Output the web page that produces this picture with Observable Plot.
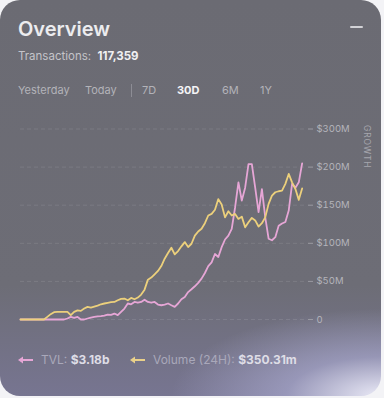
<!DOCTYPE html>
<html>
<head>
<meta charset="utf-8">
<script src="https://cdn.jsdelivr.net/npm/d3@7"></script>
<script src="https://cdn.jsdelivr.net/npm/@observablehq/plot@0.6"></script>
<style>
  html, body { margin: 0; padding: 0; background: #f3f3f6; width: 384px; height: 398px; overflow: hidden; font-family: Inter, "Noto Sans", sans-serif; }
  #card { position: absolute; left: 0; top: 0; width: 381px; height: 396px; border-radius: 20px; overflow: hidden;
    background:
      radial-gradient(ellipse 55% 22% at 100% 100%, rgba(240,240,252,0.95) 0%, rgba(180,180,220,0.55) 45%, rgba(130,128,170,0) 100%),
      linear-gradient(to bottom, #6b6b73 0%, #6d6d76 72%, #777591 100%);
  }
  .t { position: absolute; white-space: nowrap; line-height: 1; }
  #title { left: 18px; top: 19px; font-size: 20px; font-weight: 600; color: #ececef; }
  #minus { position: absolute; left: 350px; top: 26px; width: 13px; height: 2px; background: #d2d2d6; border-radius: 1px; }
  #tx { left: 18px; top: 51px; font-size: 11.5px; color: #c4c4c9; }
  #tx b { color: #f0f0f2; font-weight: 700; }
  .tab { top: 85px; font-size: 11px; color: #b3b3b9; }
  .tab.on { color: #f4f4f6; font-weight: 700; }
  #sep { position: absolute; left: 131px; top: 84px; width: 1px; height: 13px; background: #8d8d95; }
  #chart { position: absolute; left: 0; top: 110px; }
  #growth { left: 360px; top: 125px; font-size: 8.5px; letter-spacing: 0.8px; color: #a6a6ad; transform-origin: 0 0; transform: translate(11px, 0) rotate(90deg); }
  .leg { top: 354px; font-size: 12px; color: #a9a8ba; }
  .leg b { color: #dedde6; font-weight: 700; }
  .ico { position: absolute; top: 355px; }
</style>
</head>
<body>
<div id="card">
  <div class="t" id="title">Overview</div>
  <div id="minus"></div>
  <div class="t" id="tx">Transactions:&nbsp; <b>117,359</b></div>
  <div class="t tab" style="left:18px">Yesterday</div>
  <div class="t tab" style="left:85px">Today</div>
  <div id="sep"></div>
  <div class="t tab" style="left:142px">7D</div>
  <div class="t tab on" style="left:177px">30D</div>
  <div class="t tab" style="left:222px">6M</div>
  <div class="t tab" style="left:260px">1Y</div>
  <div id="chart"></div>
  <div class="t" id="growth">GROWTH</div>
  <svg class="ico" style="left:17px" width="17" height="10"><line x1="3" y1="5" x2="16" y2="5" stroke="#e6a6d6" stroke-width="2"/><path d="M1,5 L6,1.5 L6,8.5 Z" fill="#e6a6d6"/></svg>
  <div class="t leg" style="left:41px">TVL: <b>$3.18b</b></div>
  <svg class="ico" style="left:129px" width="17" height="10"><line x1="3" y1="5" x2="16" y2="5" stroke="#e9d08a" stroke-width="2"/><path d="M1,5 L6,1.5 L6,8.5 Z" fill="#e9d08a"/></svg>
  <div class="t leg" style="left:153px">Volume (24H): <b>$350.31m</b></div>
</div>
<script>
// TVL series (millions), evenly spaced samples over the 30D window
const tvl = [0,0,0,0,0,0,0,0,0,0,0,0,0,0,
  1.3,3.5,2.2,3.5,0,0,1.3,2.6,3.5,4,4.4,5.2,6.5,6,7.8,5.7,10,14.4,21,20,23,22,23,26,23,22,
  23,19.6,18.7,19.6,21,18.7,16.6,21,26.6,29.6,36,39.7,43.6,48,53.6,61,70,75,86,82,
  95,105,110,119,147,180,156,173,204,204,173,141,171,134,106,104,108,123,126,128,
  143,178,173,180,205];
// Volume (24H) series (millions)
const volume = [0,0,0,0,0,0,0,0,
  3.5,7,9.6,10,10,10,10,5.7,10,12,11.3,14.4,16.6,15.7,17,18.3,20,21,21.8,22.7,23,25.3,
  27,27.5,25.3,28.3,26.6,28.8,32.7,39.2,52.3,55,59.3,63.7,70.2,79.8,87.2,94.2,85.5,89.8,96,101.6,
  95,99.4,110,115.5,119,126.4,136.5,138.6,144,158,151,134,142,136.5,138.6,132,135,121,127.7,133.4,
  130,122,126.4,134,151.7,162.6,167,168.3,169,178,191,180,171.3,157,172];
const tickValues = [0, 50, 100, 150, 200, 250];
const tickLabels = ["0", "$50M", "$100M", "$150M", "$200M", "$300M"];

const rows = [];
tvl.forEach((v, i) => rows.push({i, v, s: "TVL"}));
volume.forEach((v, i) => rows.push({i, v, s: "Volume"}));

const chart = Plot.plot({
  width: 381,
  height: 220,
  marginLeft: 20,
  marginRight: 74,
  marginTop: 18.5,
  marginBottom: 11,
  style: {background: "transparent", fontFamily: "Inter, sans-serif", fontSize: "9.5px", color: "#b4b4bb", overflow: "visible"},
  x: {domain: [0, 85.6], axis: null},
  y: {domain: [0, 250]},
  marks: [
    Plot.gridY(tickValues, {stroke: "#ffffff", strokeOpacity: 0.1, strokeDasharray: "4,3"}),
    Plot.axisY(tickValues, {anchor: "right", tickSize: 5, tickPadding: 4, tickFormat: (d, k) => tickLabels[k], label: null, stroke: "#9a9aa2", fill: "#b4b4bb"}),
    Plot.line(rows.filter(d => d.s === "TVL"), {x: "i", y: "v", stroke: "#e6a6d6", strokeWidth: 1.8}),
    Plot.line(rows.filter(d => d.s === "Volume"), {x: "i", y: "v", stroke: "#ecd07c", strokeWidth: 1.8})
  ]
});
document.getElementById("chart").appendChild(chart);
</script>
</body>
</html>
